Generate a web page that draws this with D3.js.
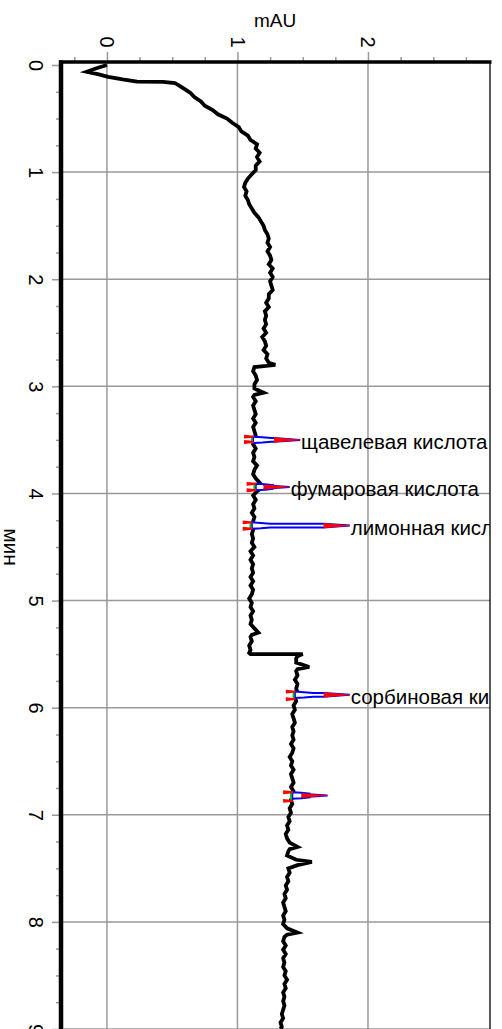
<!DOCTYPE html>
<html>
<head>
<meta charset="utf-8">
<script src="https://cdn.jsdelivr.net/npm/d3@7"></script>
<style>
  body { margin: 0; background: #fff; }
  svg { display: block; font-family: "Liberation Sans", Arial, sans-serif; }
</style>
</head>
<body>
<svg id="chart" width="502" height="1029"></svg>
<script>
// chromatogram, drawn rotated: time runs down, absorbance runs right
var timeTicks = [0, 1, 2, 3, 4, 5, 6, 7, 8, 9];
var mauTicks = [0, 1, 2];

// [minutes, mAU]
var trace = [
  [0,0.00],[0.03,-0.08],[0.063,-0.155],[0.085,-0.07],[0.11,0.01],[0.135,0.12],[0.155,0.23],[0.158,0.43],[0.168,0.52],
  [0.19,0.55],[0.22,0.59],[0.26,0.64],[0.30,0.67],[0.34,0.72],[0.38,0.75],[0.42,0.81],[0.46,0.85],[0.50,0.92],
  [0.54,0.96],[0.58,1.01],[0.62,1.03],[0.66,1.08],[0.70,1.10],[0.74,1.15],[0.78,1.14],[0.82,1.17],[0.86,1.15],
  [0.90,1.17],[0.94,1.14],[0.98,1.14],[1.02,1.11],[1.06,1.08],[1.10,1.06],[1.14,1.05],[1.18,1.07],[1.22,1.06],
  [1.26,1.08],[1.30,1.09],[1.34,1.11],[1.38,1.13],[1.42,1.16],[1.46,1.18],[1.50,1.20],[1.54,1.21],[1.58,1.23],
  [1.62,1.24],[1.66,1.23],[1.70,1.25],[1.74,1.23],[1.78,1.25],[1.82,1.26],[1.86,1.24],[1.90,1.27],[1.94,1.25],
  [1.98,1.27],[2.02,1.25],[2.06,1.26],[2.10,1.27],[2.14,1.24],[2.18,1.24],[2.22,1.22],[2.26,1.24],[2.30,1.21],
  [2.34,1.22],[2.38,1.21],[2.42,1.22],[2.46,1.20],[2.50,1.22],[2.54,1.19],[2.58,1.21],[2.62,1.22],[2.66,1.20],
  [2.70,1.23],[2.74,1.22],[2.78,1.24],[2.80,1.29],[2.81,1.22],[2.82,1.13],
  [2.86,1.12],[2.90,1.14],[2.94,1.15],[2.98,1.13],[3.02,1.13],[3.06,1.20],[3.08,1.13],[3.10,1.12],[3.14,1.14],
  [3.18,1.12],[3.22,1.13],[3.26,1.14],[3.30,1.12],[3.34,1.14],[3.38,1.12],[3.42,1.13],[3.46,1.14],[3.50,1.14],
  [3.54,1.12],[3.58,1.14],[3.62,1.12],[3.66,1.13],[3.70,1.12],[3.74,1.15],[3.78,1.13],[3.82,1.12],[3.86,1.14],
  [3.90,1.17],[3.94,1.19],[3.98,1.15],[4.02,1.12],[4.06,1.14],[4.10,1.12],[4.14,1.13],[4.18,1.11],[4.22,1.13],
  [4.26,1.12],[4.30,1.12],[4.34,1.12],[4.38,1.11],[4.42,1.12],[4.46,1.11],[4.50,1.13],[4.54,1.10],[4.58,1.12],
  [4.62,1.10],[4.66,1.12],[4.70,1.11],[4.74,1.12],[4.78,1.10],[4.82,1.12],[4.86,1.10],[4.90,1.12],[4.94,1.11],
  [4.98,1.09],[5.02,1.11],[5.06,1.10],[5.10,1.12],[5.14,1.10],[5.18,1.11],[5.22,1.10],[5.26,1.13],[5.30,1.16],
  [5.32,1.11],[5.34,1.10],[5.38,1.11],[5.42,1.09],[5.46,1.10],[5.49,1.09],[5.50,1.10],[5.50,1.50],[5.52,1.46],
  [5.54,1.45],[5.58,1.45],[5.62,1.55],[5.64,1.46],[5.66,1.45],[5.70,1.46],[5.74,1.44],[5.78,1.46],[5.82,1.45],
  [5.86,1.46],[5.90,1.44],[5.94,1.45],[5.98,1.43],[6.02,1.44],[6.06,1.42],[6.10,1.43],[6.14,1.44],[6.18,1.42],
  [6.22,1.43],[6.26,1.42],[6.30,1.43],[6.34,1.41],[6.38,1.43],[6.42,1.42],[6.46,1.40],[6.50,1.42],[6.54,1.41],
  [6.58,1.43],[6.62,1.41],[6.66,1.42],[6.70,1.43],[6.74,1.41],[6.78,1.43],[6.82,1.43],[6.86,1.41],[6.90,1.42],
  [6.94,1.40],[6.98,1.41],[7.02,1.39],[7.06,1.40],[7.10,1.38],[7.14,1.39],[7.18,1.37],[7.22,1.38],[7.26,1.40],
  [7.30,1.46],[7.32,1.40],[7.34,1.39],[7.38,1.38],[7.42,1.45],[7.44,1.57],[7.47,1.46],[7.50,1.39],[7.54,1.40],
  [7.58,1.38],[7.62,1.39],[7.66,1.37],[7.70,1.38],[7.74,1.36],[7.78,1.37],[7.82,1.35],[7.86,1.36],[7.90,1.37],
  [7.94,1.35],[7.98,1.36],[8.02,1.35],[8.06,1.38],[8.10,1.46],[8.12,1.38],[8.14,1.36],[8.18,1.35],[8.22,1.37],
  [8.26,1.35],[8.30,1.37],[8.34,1.35],[8.38,1.36],[8.42,1.35],[8.46,1.37],[8.50,1.36],[8.54,1.38],[8.58,1.36],
  [8.62,1.37],[8.66,1.35],[8.70,1.36],[8.74,1.35],[8.78,1.36],[8.82,1.35],[8.86,1.34],[8.90,1.35],[8.94,1.33],
  [8.98,1.34],[9.00,1.33]
];

// integrated peaks
var peakNames = ["щавелевая кислота", "фумаровая кислота", "лимонная кислота", "сорбиновая кислота", ""];
var peakTimes = [3.50, 3.94, 4.30, 5.88, 6.82];
var peakStart = [3.47, 3.91, 4.27, 5.85, 6.79];
var peakEnd   = [3.52, 3.97, 4.33, 5.92, 6.87];
var peakBase  = [1.12, 1.14, 1.11, 1.44, 1.42];
var peakApex  = [1.48, 1.40, 1.86, 1.86, 1.69];

var svg = d3.select("#chart");
var plot = { left: 61, right: 490, top: 62, bottom: 1029 };

var x = d3.scaleLinear().domain([-0.352, 2.935]).range([plot.left, plot.right]);
var y = d3.scaleLinear().domain([-0.028, 9]).range([plot.top, plot.bottom]);

svg.append("defs").append("clipPath").attr("id", "plotClip")
   .append("rect")
     .attr("x", plot.left).attr("y", plot.top)
     .attr("width", plot.right - plot.left).attr("height", plot.bottom - plot.top);

var gridColor = "#999";

//grid
svg.append("g").selectAll("line")
   .data(mauTicks)
   .enter().append("line")
     .attr("x1", function(d) { return x(d); }).attr("x2", function(d) { return x(d); })
     .attr("y1", plot.top).attr("y2", plot.bottom)
     .attr("stroke", gridColor).attr("stroke-width", 1.5);

svg.append("g").selectAll("line")
   .data(timeTicks.filter(function(d) { return d > 0; }))
   .enter().append("line")
     .attr("x1", plot.left).attr("x2", plot.right)
     .attr("y1", function(d) { return y(d); }).attr("y2", function(d) { return y(d); })
     .attr("stroke", gridColor).attr("stroke-width", 1.5);

//axes: minor and major ticks
var mauMinor = d3.range(-0.25, 2.9, 0.25).filter(function(d) { return Math.abs(d - Math.round(d)) > 0.01; });
var timeMinor = d3.range(0.25, 9, 0.25).filter(function(d) { return Math.abs(d - Math.round(d)) > 0.01; });

var styleAxis = function(g) {
  g.select(".domain").remove();
  g.selectAll("line").attr("stroke", gridColor).attr("stroke-width", 1.5);
};

svg.append("g").attr("transform", "translate(0," + plot.top + ")")
   .call(d3.axisTop(x).tickValues(mauMinor).tickSize(5).tickFormat(""))
   .call(styleAxis);

var topAxis = svg.append("g").attr("transform", "translate(0," + plot.top + ")")
   .call(d3.axisTop(x).tickValues(mauTicks).tickSize(10).tickFormat(d3.format("d")))
   .call(styleAxis);
topAxis.selectAll("text")
   .attr("y", 0).attr("dy", "0.35em")
   .attr("transform", "translate(0,-20) rotate(90)")
   .attr("text-anchor", "middle")
   .attr("font-size", 20).attr("font-family", null).attr("fill", "#000");

svg.append("g").attr("transform", "translate(" + plot.left + ",0)")
   .call(d3.axisLeft(y).tickValues(timeMinor).tickSize(5).tickFormat(""))
   .call(styleAxis);

var leftAxis = svg.append("g").attr("transform", "translate(" + plot.left + ",0)")
   .call(d3.axisLeft(y).tickValues(timeTicks).tickSize(9).tickFormat(d3.format("d")))
   .call(styleAxis);
leftAxis.selectAll("text")
   .attr("x", 0).attr("dy", "0.35em")
   .attr("transform", "translate(-25,0) rotate(90)")
   .attr("text-anchor", "middle")
   .attr("font-size", 20).attr("font-family", null).attr("fill", "#000");

//titles
svg.append("text")
   .attr("x", 275).attr("y", 27)
   .attr("text-anchor", "middle").attr("font-size", 19)
   .text("mAU");

svg.append("text")
   .attr("transform", "translate(10,547) rotate(90)")
   .attr("dy", "0.3em")
   .attr("text-anchor", "middle").attr("font-size", 21)
   .text("мин");

var body = svg.append("g").attr("clip-path", "url(#plotClip)");

//signal
var line = d3.line()
   .x(function(d) { return x(d[1]); })
   .y(function(d) { return y(d[0]); });

body.append("path")
   .datum(trace)
   .attr("d", line)
   .attr("fill", "none")
   .attr("stroke", "#000")
   .attr("stroke-width", 3.8)
   .attr("stroke-linejoin", "miter");

//peak marks
var pt = function(m, t) { return x(m) + "," + y(t); };

peakTimes.forEach(function(t, i) {
  var base = peakBase[i], apex = peakApex[i];
  var neck = Math.min(base + 0.14, apex - 0.1);
  var redFrom = apex - 0.2;
  var g = body.append("g");

  //peak outline
  g.append("polygon")
   .attr("points", [
      pt(base, t - 0.03), pt(base + 0.07, t - 0.025), pt(neck, t - 0.017),
      pt(redFrom, t - 0.017), pt(apex, t),
      pt(redFrom, t + 0.017), pt(neck, t + 0.017), pt(base + 0.07, t + 0.025), pt(base, t + 0.03)
   ].join(" "))
   .attr("fill", "#fff").attr("stroke", "#0000ff").attr("stroke-width", 2);

  //apex marker
  g.append("polygon")
   .attr("points", [pt(redFrom, t - 0.024), pt(apex, t - 0.003), pt(apex, t + 0.003), pt(redFrom, t + 0.024)].join(" "))
   .attr("fill", "#ff0000");

  //baseline
  g.append("line")
   .attr("x1", x(base - 0.01)).attr("x2", x(base - 0.01))
   .attr("y1", y(peakStart[i])).attr("y2", y(peakEnd[i]))
   .attr("stroke", "#00c000").attr("stroke-width", 2);

  [peakStart[i], peakEnd[i]].forEach(function(tm) {
    g.append("polygon")
     .attr("points", [pt(base - 0.07, tm - 0.018), pt(base + 0.005, tm - 0.009), pt(base + 0.005, tm + 0.009), pt(base - 0.07, tm + 0.018)].join(" "))
     .attr("fill", "#ff0000");
  });

  if (peakNames[i]) {
    g.append("text")
     .attr("x", x(apex) + 1).attr("y", y(t) + 9)
     .attr("font-size", 20.5)
     .text(peakNames[i]);
  }
});

//frame
svg.append("line")
   .attr("x1", plot.right).attr("x2", plot.right)
   .attr("y1", plot.top).attr("y2", plot.bottom)
   .attr("stroke", "#000").attr("stroke-width", 1.3);
svg.append("line")
   .attr("x1", plot.left - 2).attr("x2", plot.right + 1.5)
   .attr("y1", plot.top).attr("y2", plot.top)
   .attr("stroke", "#000").attr("stroke-width", 3.5);
svg.append("line")
   .attr("x1", plot.left).attr("x2", plot.left)
   .attr("y1", plot.top - 1.5).attr("y2", plot.bottom)
   .attr("stroke", "#000").attr("stroke-width", 4.5);
</script>
</body>
</html>
